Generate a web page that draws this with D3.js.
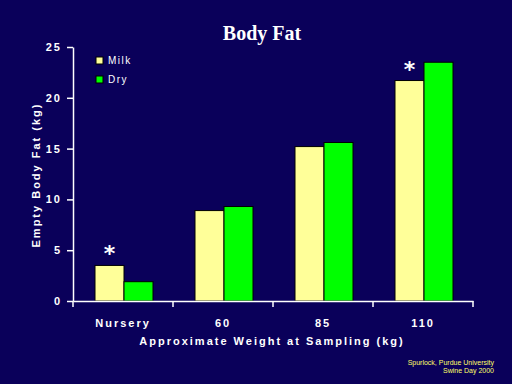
<!DOCTYPE html>
<html>
<head>
<meta charset="utf-8">
<script src="https://cdn.jsdelivr.net/npm/d3@7"></script>
<style>
	body{margin:0;background:#0a005a;}
	svg{display:block;}
</style>
</head>
<body>
<svg id="chart" width="512" height="384"></svg>
<script>
const categories = ['Nursery','60','85','110'];
const seriesNames = ['Milk','Dry'];
const milkValues = [3.5, 8.9, 15.2, 21.7];
const dryValues = [1.9, 9.3, 15.6, 23.5];
const yTicks = [0,5,10,15,20,25];
const starCategories = ['Nursery','110']; //significant difference markers

const colors = {Milk:'#ffff99', Dry:'#00ff00'};
const _m = {t:47,r:39,b:83,l:73};
const W = 512, H = 384;
const _w = W - _m.l - _m.r, _h = H - _m.t - _m.b;

const svg = d3.select('#chart');
svg.append('rect').attr('width',W).attr('height',H).style('fill','#0a005a');

const data = categories.map((c,i)=>({cat:c, Milk:milkValues[i], Dry:dryValues[i]}));

const x0 = d3.scaleBand().domain(categories).range([0,_w]).padding(0);
const x1 = d3.scaleBand().domain(seriesNames).range([22,80]).padding(0);
const y = d3.scaleLinear().domain([0,25]).range([_h,0]);

const g = svg.append('g').attr('transform',`translate(${_m.l},${_m.t})`);

//title
svg.append('text')
	.attr('x',262).attr('y',40)
	.attr('text-anchor','middle')
	.style('font-family','"Liberation Serif", serif')
	.style('font-weight','bold')
	.style('font-size','20px')
	.style('fill','white')
	.text('Body Fat');

//bars
const groups = g.selectAll('.grp')
	.data(data)
	.enter().append('g').attr('class','grp')
	.attr('transform',d=>`translate(${x0(d.cat)},0)`);
groups.selectAll('rect')
	.data(d=>seriesNames.map(k=>({key:k, value:d[k]})))
	.enter().append('rect')
	.attr('x',d=>x1(d.key))
	.attr('width',x1.bandwidth())
	.attr('y',d=>y(d.value))
	.attr('height',d=>_h - y(d.value))
	.style('fill',d=>colors[d.key])
	.style('stroke','black')
	.style('stroke-width',1);

//asterisks
g.selectAll('.star')
	.data(data.filter(d=>starCategories.includes(d.cat)))
	.enter().append('text').attr('class','star')
	.attr('x',d=>x0(d.cat)+x1('Milk')+x1.bandwidth()/2)
	.attr('y',d=>y(d.Milk)-4)
	.attr('text-anchor','middle')
	.style('font-family','"DejaVu Sans", sans-serif')
	.style('font-weight','bold')
	.style('font-size','22px')
	.style('fill','white')
	.text('*');

//axes
const axisFont = g=>g.selectAll('text')
	.style('font-family','"Liberation Sans", Arial, sans-serif')
	.style('font-weight','bold')
	.style('font-size','11px')
	.style('letter-spacing','2px')
	.style('fill','white');

const yAxis = g.append('g')
	.call(d3.axisLeft(y).tickValues(yTicks).tickSize(6).tickSizeOuter(0).tickPadding(5));
yAxis.call(axisFont);
yAxis.selectAll('line,path').style('stroke','white').style('stroke-width',1.5);

const xAxis = g.append('g').attr('transform',`translate(0,${_h})`)
	.call(d3.axisBottom(x0).tickSize(0).tickPadding(18));
xAxis.call(axisFont);
xAxis.select('.domain').style('stroke','white').style('stroke-width',1.5);
//ticks between categories
xAxis.selectAll('.sep')
	.data(d3.range(categories.length+1))
	.enter().append('line').attr('class','sep')
	.attr('x1',i=>i*x0.step()).attr('x2',i=>i*x0.step())
	.attr('y1',0).attr('y2',6)
	.style('stroke','white').style('stroke-width',1.5);

//axis titles
svg.append('text')
	.attr('transform','translate(40,175) rotate(-90)')
	.attr('text-anchor','middle')
	.style('font-family','"Liberation Sans", Arial, sans-serif')
	.style('font-weight','bold')
	.style('font-size','11px')
	.style('letter-spacing','2px')
	.style('fill','white')
	.text('Empty Body Fat (kg)');
svg.append('text')
	.attr('x',272).attr('y',345)
	.attr('text-anchor','middle')
	.style('font-family','"Liberation Sans", Arial, sans-serif')
	.style('font-weight','bold')
	.style('font-size','11px')
	.style('letter-spacing','2px')
	.style('fill','white')
	.text('Approximate Weight at Sampling (kg)');

//legend
const legend = svg.append('g').attr('transform','translate(96,57)');
const li = legend.selectAll('.li')
	.data(seriesNames)
	.enter().append('g').attr('class','li')
	.attr('transform',(d,i)=>`translate(0,${i*19})`);
li.append('rect')
	.attr('width',7).attr('height',7)
	.style('fill',d=>colors[d])
	.style('stroke','black');
li.append('text')
	.attr('x',12).attr('y',7)
	.style('font-family','"Liberation Sans", Arial, sans-serif')
	.style('font-size','10px')
	.style('letter-spacing','1.5px')
	.style('fill','white')
	.text(d=>d);

//credit
const credit = svg.append('text')
	.attr('text-anchor','end')
	.style('font-family','"Liberation Sans", Arial, sans-serif')
	.style('font-size','7px')
	.style('fill','#ffff66');
credit.append('tspan').attr('x',494).attr('y',365).text('Spurlock, Purdue University');
credit.append('tspan').attr('x',494).attr('y',373).text('Swine Day 2000');
</script>
</body>
</html>
